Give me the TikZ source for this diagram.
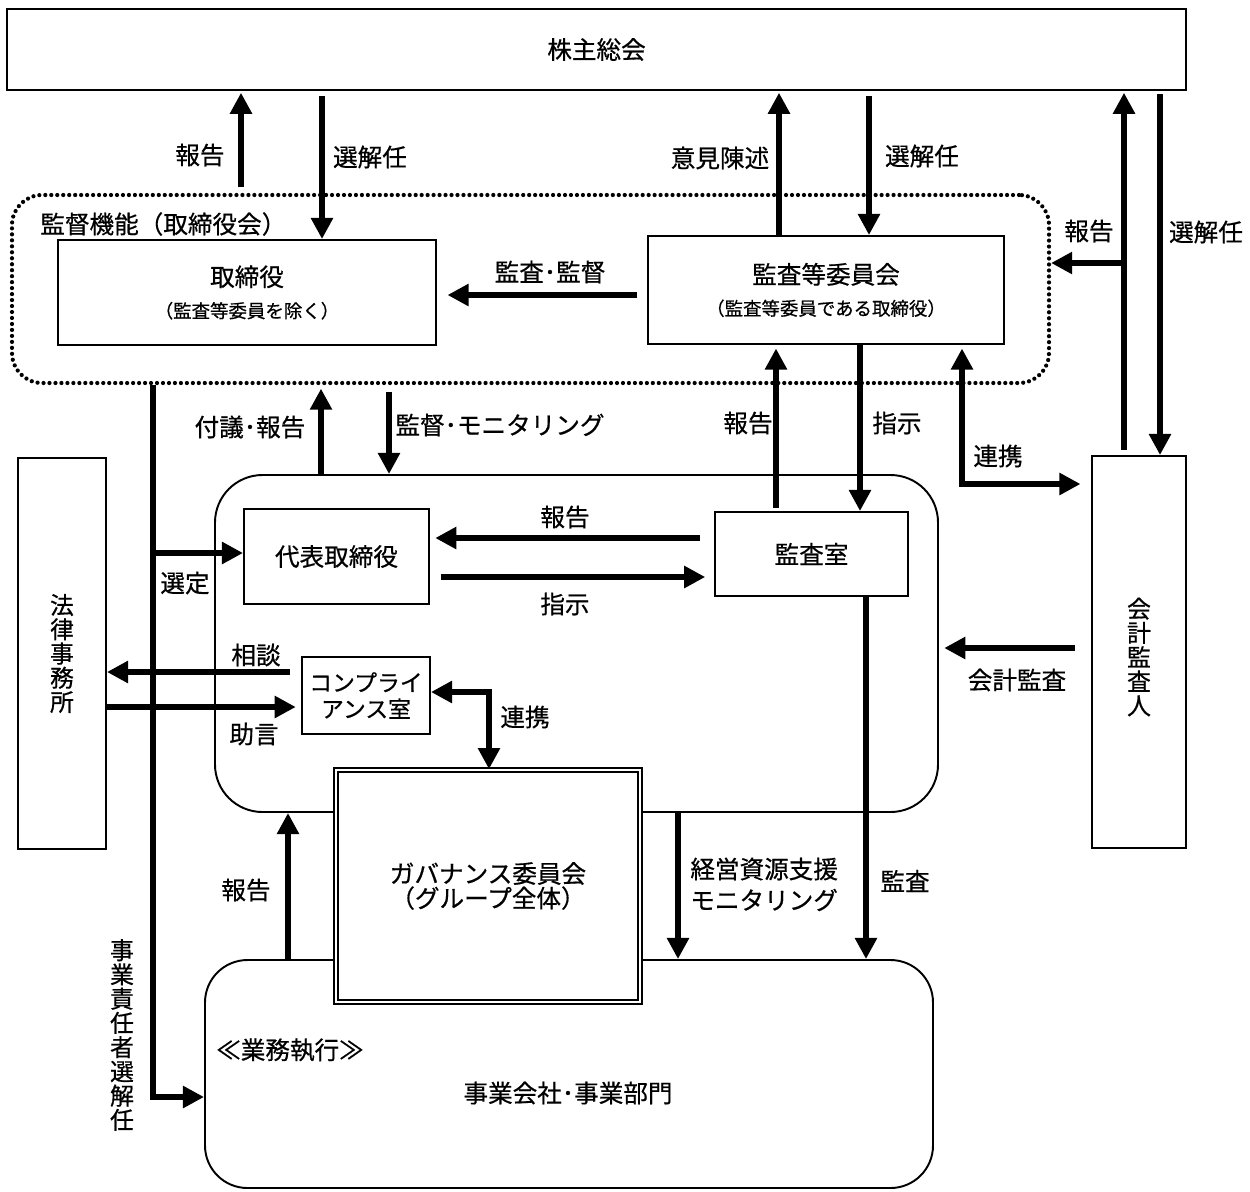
\documentclass[tikz,border=0pt]{standalone}
\usepackage{fontspec}
\setmainfont{Noto Sans CJK JP}[FakeBold=0.6]
\usetikzlibrary{arrows.meta,calc}
\newcommand\fsz[1]{\fontsize{#1}{#1}\selectfont}
\tikzset{
  sz/.style 2 args={minimum width=#1*0.02cm, minimum height=#2*0.02cm},
  box/.style={draw, line width=1.1pt, inner sep=0pt, align=center, font=\fsz{14}, fill=white},
  rbox/.style={draw, line width=1.1pt, inner sep=0pt},
  dotbox/.style={draw, line width=2.4pt, dash pattern=on 0pt off 3.4pt, line cap=round, inner sep=0pt, rounded corners=0.6cm},
  lbl/.style={inner sep=0pt, font=\fsz{14}, align=center},
  vlbl/.style={inner sep=0pt, align=center, font=\fontsize{13.6}{13.8}\selectfont},
  arr/.style={line width=3.4pt, -{Triangle[length=12pt,width=12pt]}},
  arrb/.style={line width=3.4pt, {Triangle[length=12pt,width=12pt]}-{Triangle[length=12pt,width=12pt]}},
}
\begin{document}
\begin{tikzpicture}[x=0.02cm,y=-0.02cm]
\useasboundingbox (0,0) rectangle (1250,1191);
% containers
\node[dotbox, sz={1037}{188}] (dotted) at (530.5,289) {};
\node[rbox, sz={723}{337}, rounded corners=0.95cm] (exec) at (576.5,643.5) {};
\node[rbox, sz={728}{228}, rounded corners=0.85cm] (jigyo) at (569,1074) {};
\node[box, sz={304}{232}, double, double distance=1.4pt, line width=1pt] (gov) at (488,886) {ガバナンス委員会\\（グループ全体）};
% boxes
\node[box, sz={1179}{81}] (gm) at (596.5,49.5) {株主総会};
\node[box, sz={378}{105}] (tori) at (247,292.5) {取締役\\[4pt]{\fsz{10.5}（監査等委員を除く）}};
\node[box, sz={356}{108}] (kansa) at (826,290) {監査等委員会\\[4pt]{\fsz{10.5}（監査等委員である取締役）}};
\node[box, sz={185}{95}] (daihyo) at (336.5,556.5) {代表取締役};
\node[box, sz={193}{84}] (kansashitsu) at (811.5,554) {監査室};
\node[box, sz={88}{391}] (hou) at (62,653.5) {};
\node[box, sz={94}{392}] (kaikei) at (1139,652) {};
\node[box, sz={128}{77}, font=\fontsize{13}{15}\selectfont] (comp) at (366,695.5) {コンプライ\\アンス室};
% vertical texts
\node[vlbl] (houT) at (hou.center) {法\\律\\事\\務\\所};
\node[vlbl] (kaikeiT) at (1139,657) {会\\計\\監\\査\\人};
\node[vlbl] (senkaiT) at (122,1035) {事\\業\\責\\任\\者\\選\\解\\任};
% labels
\node[lbl, anchor=west] (lkantoku) at (40,224) {監督機能（取締役会）};
\node[lbl] (l1) at (200,155) {報告};
\node[lbl] (l2) at (370,157) {選解任};
\node[lbl] (l3) at (720,158) {意見陳述};
\node[lbl] (l4) at (922,156) {選解任};
\node[lbl] (l5) at (1089,231) {報告};
\node[lbl] (l6) at (1206,232) {選解任};
\node[lbl] (l7) at (550,272) {監査･監督};
\node[lbl] (l8) at (250,427) {付議･報告};
\node[lbl] (l9) at (500,425) {監督･モニタリング};
\node[lbl] (l10) at (748,423) {報告};
\node[lbl] (l11) at (897,423) {指示};
\node[lbl] (l12) at (998,456) {連携};
\node[lbl] (l13) at (565,517) {報告};
\node[lbl] (l14) at (565,604) {指示};
\node[lbl] (l15) at (185,583) {選定};
\node[lbl] (l16) at (256,655) {相談};
\node[lbl] (l17) at (254,734) {助言};
\node[lbl] (l18) at (525,717) {連携};
\node[lbl] (l19) at (1017,680) {会計監査};
\node[lbl] (l20) at (246,890) {報告};
\node[lbl, anchor=west] (l21) at (690,869) {経営資源支援};
\node[lbl, anchor=west] (l22) at (690,900) {モニタリング};
\node[lbl] (l23) at (905,881) {監査};
\node[lbl] (l24) at (290,1050) {≪業務執行≫};
\node[lbl] (l25) at (568,1093) {事業会社･事業部門};
% connectors
\coordinate (hokokuStart) at (241,187);
\draw[arr, shorten >=1pt] (hokokuStart) -- (hokokuStart |- gm.south);
\draw[arr, shorten <=3pt] (322,0 |- gm.south) -- (322,0 |- tori.north);
\draw[arr, shorten <=6pt, shorten >=6pt] (kansa.west |- 0,295) -- (tori.east |- 0,295);
\draw[arr, shorten >=1pt] (779,0 |- kansa.north) -- (779,0 |- gm.south);
\draw[arr, shorten <=3pt] (869,0 |- gm.south) -- (869,0 |- kansa.north);
\draw[arr, shorten <=3pt, shorten >=1pt] (1124,0 |- kaikei.north) -- (1124,0 |- gm.south);
\coordinate (brR) at (1124,263);
\draw[arr] (brR) -- (dotted.east |- brR);
\draw[arr, shorten <=2pt] (1160,0 |- gm.south) -- (1160,0 |- kaikei.north);
\draw[arr] (153,0 |- dotted.south) |- (jigyo.west |- 0,1097);
\coordinate (brL) at (153,553);
\draw[arr] (brL) -- (daihyo.west |- brL);
\draw[arr, shorten >=2pt] (321,0 |- exec.north) -- (321,0 |- dotted.south);
\draw[arr, shorten <=4pt] (389,0 |- dotted.south) -- (389,0 |- exec.north);
\draw[arr, shorten <=8pt, shorten >=3pt] (kansashitsu.west |- 0,538) -- (daihyo.east |- 0,538);
\draw[arr, shorten <=6pt, shorten >=5pt] (daihyo.east |- 0,577) -- (kansashitsu.west |- 0,577);
\draw[arr, shorten <=2pt, shorten >=2pt] (776,0 |- kansashitsu.north) -- (776,0 |- kansa.south);
\draw[arr] (860,0 |- kansa.south) -- (860,0 |- kansashitsu.north);
\draw[arrb, shorten <=2pt, shorten >=6pt] (962,0 |- kansa.south) |- (kaikei.west |- 0,484);
\draw[arr, shorten <=6pt] (comp.west |- 0,672) -- (hou.east |- 0,672);
\draw[arr, shorten >=3pt] (hou.east |- 0,707) -- (comp.west |- 0,707);
\draw[arrb] (comp.east |- 0,692) -| (489,0 |- gov.north);
\draw[arr, shorten <=9pt, shorten >=3pt] (kaikei.west |- 0,648) -- (exec.east |- 0,648);
\draw[arr] (866,0 |- kansashitsu.south) -- (866,0 |- jigyo.north);
\draw[arr] (678,0 |- exec.south) -- (678,0 |- jigyo.north);
\draw[arr] (288,0 |- jigyo.north) -- (288,0 |- exec.south);
\end{tikzpicture}
\end{document}
